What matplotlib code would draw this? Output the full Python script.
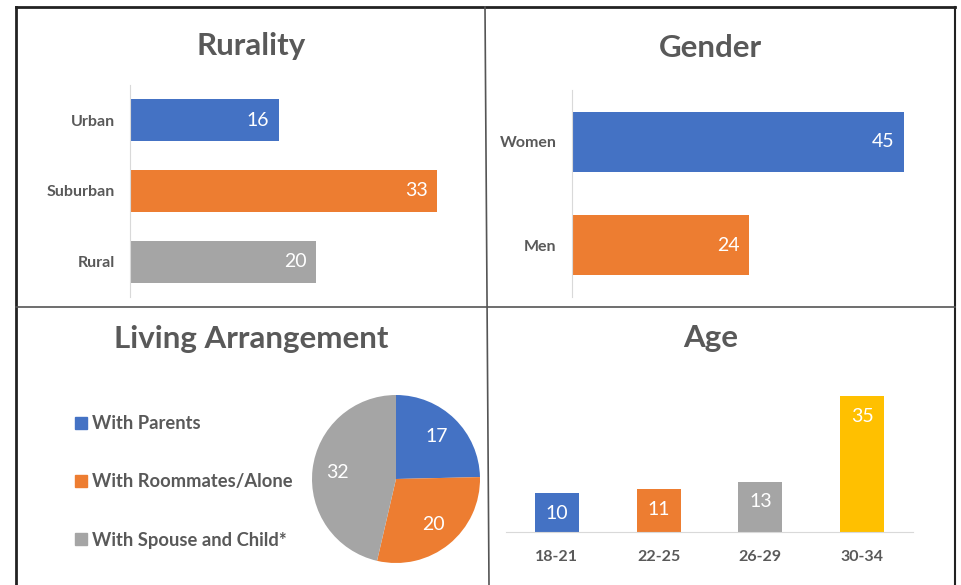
import matplotlib
matplotlib.use('Agg')
import matplotlib.pyplot as plt
import matplotlib.lines as mlines
import matplotlib.patches as mpatches

plt.rcParams['font.family'] = ['Lato', 'DejaVu Sans']

# data
rurality_labels = ['Urban', 'Suburban', 'Rural']
rurality_values = [16, 33, 20]
gender_labels = ['Women', 'Men']
gender_values = [45, 24]
living_labels = ['With Parents', 'With Roommates/Alone', 'With Spouse and Child*']
living_values = [17, 20, 32]
age_labels = ['18-21', '22-25', '26-29', '30-34']
age_values = [10, 11, 13, 35]

blue = '#4472C4'
orange = '#ED7D31'
gray = '#A5A5A5'
yellow = '#FFC000'
text_gray = '#595959'
axis_gray = '#D9D9D9'

W, H = 961, 585
fig = plt.figure(figsize=(W / 100, H / 100), dpi=100)


def box(x0, y0, x1, y1):
  # pixel box (top-left origin) -> figure fraction rect
  return [x0 / W, (H - y1) / H, (x1 - x0) / W, (y1 - y0) / H]


def title(x, y, s):
  fig.text(x / W, 1 - y / H, s, ha='center', va='center',
           fontsize=22.5, fontweight='bold', color=text_gray)


def hbar_panel(rect, labels, values, colors, xmax, height):
  ax = fig.add_axes(rect)
  pos = list(range(len(values)))
  ax.barh(pos, values, height=height, color=colors)
  ax.set_xlim(0, xmax)
  ax.set_ylim(len(values) - 0.5, -0.5)
  ax.set_yticks(pos)
  ax.set_yticklabels(labels, fontsize=11.5, fontweight='bold', color=text_gray)
  ax.set_xticks([])
  ax.tick_params(axis='y', length=0, pad=11)
  for s in ['top', 'right', 'bottom']:
    ax.spines[s].set_visible(False)
  ax.spines['left'].set_color(axis_gray)
  for p, v in zip(pos, values):
    ax.annotate(str(v), xy=(v, p), xytext=(-7, 0), textcoords='offset points',
                ha='right', va='center', color='white', fontsize=14)
  return ax


# Rurality
hbar_panel(box(130, 85, 456, 297), rurality_labels, rurality_values,
           [blue, orange, gray], 35, 0.59)
title(251, 46, 'Rurality')

# Gender
hbar_panel(box(572, 90, 926, 297), gender_labels, gender_values,
           [blue, orange], 48, 0.58)
title(710, 48, 'Gender')

# Living Arrangement
ax = fig.add_axes(box(312, 395, 480, 563))
total = sum(living_values)
wedges, texts, autotexts = ax.pie(living_values, colors=[blue, orange, gray], startangle=90,
                                  counterclock=False, radius=1,
                                  autopct=lambda p: '%d' % round(p * total / 100),
                                  pctdistance=0.7,
                                  textprops={'color': 'white', 'fontsize': 14})
ax.set_xlim(-1, 1)
ax.set_ylim(-1, 1)
ax.set_aspect('equal')
title(251, 339, 'Living Arrangement')
handles = [mpatches.Patch(color=c, label=l) for c, l in zip([blue, orange, gray], living_labels)]
fig.legend(handles=handles, loc='center left', bbox_to_anchor=(75 / W, 1 - 482 / H),
           frameon=False, borderpad=0, borderaxespad=0, handlelength=0.65, handleheight=0.65,
           handletextpad=0.3, labelspacing=2.25,
           prop={'size': 13.2, 'weight': 'bold'}, labelcolor=text_gray)

# Age
ax = fig.add_axes(box(506, 377, 913, 532))
pos = list(range(len(age_values)))
ax.bar(pos, age_values, width=0.43, color=[blue, orange, gray, yellow])
ax.set_xlim(-0.5, 3.5)
ax.set_ylim(0, 40)
ax.set_xticks(pos)
ax.set_xticklabels(age_labels, fontsize=11.5, fontweight='bold', color=text_gray)
ax.set_yticks([])
ax.tick_params(axis='x', length=0, pad=13)
for s in ['top', 'right', 'left']:
  ax.spines[s].set_visible(False)
ax.spines['bottom'].set_color(axis_gray)
for p, v in zip(pos, age_values):
  ax.annotate(str(v), xy=(p, v), xytext=(0, -14.5), textcoords='offset points',
              ha='center', va='center', color='white', fontsize=14)
title(711, 338, 'Age')

# panel borders
def fline(x0, y0, x1, y1, color='#222222', lw=1.5):
  fig.add_artist(mlines.Line2D([x0 / W, x1 / W], [1 - y0 / H, 1 - y1 / H],
                               transform=fig.transFigure, color=color, linewidth=lw))

fline(16, 7, 955, 7, lw=2)
fline(16, 7, 16, 585, lw=2)
fline(955, 7, 955, 585, lw=1.5)
fline(16, 307, 955, 307, color='#555555', lw=1.2)
fline(485, 7, 489, 585, color='#555555', lw=1.2)

plt.savefig('out.png', dpi=100)
